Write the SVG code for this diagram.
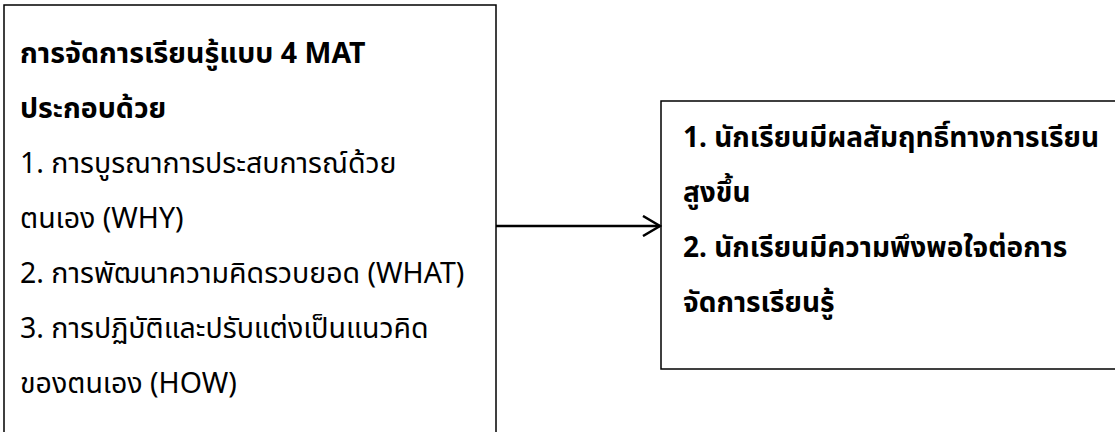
<svg xmlns="http://www.w3.org/2000/svg" width="1115" height="432" viewBox="0 0 1115 432">
<defs>
<style>
.box{fill:#fff;stroke:#000;stroke-width:1.5}
.t{font-family:"Noto Sans","Noto Sans Thai",sans-serif;font-size:28.5px;fill:#000}
.r{font-size:28px}
.b{font-weight:bold}
.conn{stroke:#000;stroke-width:2.5;fill:none}
</style>
<marker id="arr" markerWidth="20" markerHeight="22" refX="18" refY="11" orient="auto" markerUnits="userSpaceOnUse">
<path d="M1,1 L18,11 L1,21" fill="none" stroke="#000" stroke-width="2.5"/>
</marker>
</defs>
<rect width="1115" height="432" fill="#fff"/>
<g id="node-left">
<rect class="box" x="4" y="5" width="492" height="440"/>
<text class="t b" x="20" y="63">การจัดการเรียนรู้แบบ 4 MAT</text>
<text class="t b" x="20" y="118">ประกอบด้วย</text>
<text class="t" x="20" y="173">1. การบูรณาการประสบการณ์ด้วย</text>
<text class="t" x="20" y="228">ตนเอง (WHY)</text>
<text class="t" x="20" y="283">2. การพัฒนาความคิดรวบยอด (WHAT)</text>
<text class="t" x="20" y="338">3. การปฏิบัติและปรับแต่งเป็นแนวคิด</text>
<text class="t" x="20" y="393">ของตนเอง (HOW)</text>
</g>
<g id="node-right">
<rect class="box" x="661" y="101" width="470" height="268"/>
<text class="t r b" x="683" y="147">1. นักเรียนมีผลสัมฤทธิ์ทางการเรียน</text>
<text class="t r b" x="683" y="202">สูงขึ้น</text>
<text class="t r b" x="683" y="257">2. นักเรียนมีความพึงพอใจต่อการ</text>
<text class="t r b" x="683" y="312">จัดการเรียนรู้</text>
</g>
<g id="connectors">
<line class="conn" x1="496" y1="226" x2="660" y2="226" marker-end="url(#arr)"/>
</g>
</svg>
